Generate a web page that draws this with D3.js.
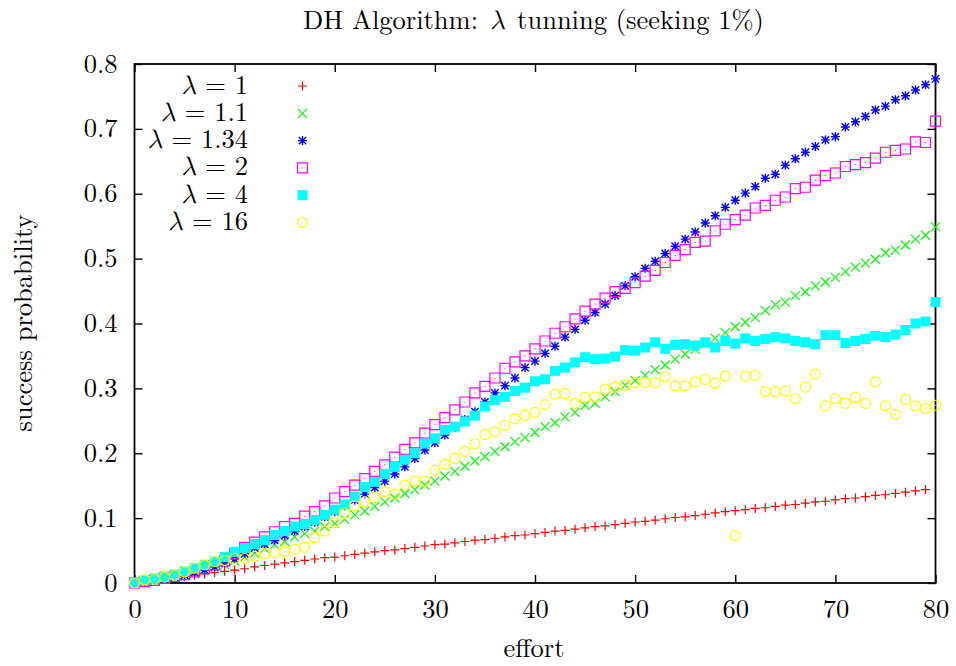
<!DOCTYPE html>
<html>
<head>
<meta charset="utf-8">
<script src="https://cdn.jsdelivr.net/npm/d3@7"></script>
<style>
  html, body { margin: 0; padding: 0; background: #fff; }
</style>
</head>
<body>
<svg id="chart" width="956" height="666"></svg>
<script>
// ---------- data ----------
const effort = d3.range(0, 81);
const xTicks = [0, 10, 20, 30, 40, 50, 60, 70, 80];
const yTicks = [0, 0.1, 0.2, 0.3, 0.4, 0.5, 0.6, 0.7, 0.8];
const seriesLabels = ["1", "1.1", "1.34", "2", "4", "16"];
const seriesColors = ["#ff0000", "#00ff00", "#0000ff", "#ff00ff", "#00ffff", "#ffff00"];

const lambda1 = [0, .002, .004, .006, .008, .010, .012, .014, .016, .018, .020, .022, .025, .027, .029, .031, .033, .035, .037, .039,
  .040, .042, .044, .046, .048, .050, .051, .053, .055, .057, .059, .060, .062, .064, .066, .067, .069, .071, .073, .074,
  .076, .078, .080, .081, .083, .085, .087, .088, .090, .092, .094, .095, .097, .099, .101, .102, .104, .106, .108, .110,
  .1115, .113, .115, .116, .118, .120, .121, .123, .125, .126, .128, .130, .131, .133, .135, .136, .138, .140, .142, .144];

const lambda1_1 = [0, .002, .004, .006, .009, .012, .015, .019, .023, .028, .034, .040, .046, .053, .059, .064, .071, .076, .080, .087,
  .092, .098, .105, .111, .118, .125, .131, .138, .144, .151, .157, .165, .172, .180, .188, .195, .203, .210, .218, .224,
  .232, .241, .247, .256, .263, .274, .277, .287, .295, .305, .312, .320, .329, .336, .345, .353, .360, .369, .377, .386,
  .395, .402, .409, .420, .429, .433, .443, .449, .458, .464, .471, .480, .487, .493, .499, .509, .513, .521, .530, .536, .549];

const lambda1_34 = [0, .002, .004, .006, .009, .012, .016, .020, .025, .031, .037, .045, .054, .060, .066, .073, .080, .087, .094, .102,
  .110, .119, .128, .137, .147, .157, .168, .179, .192, .205, .216, .228, .240, .252, .264, .279, .293, .304, .316, .332,
  .342, .354, .365, .379, .391, .405, .417, .430, .443, .458, .472, .485, .496, .508, .519, .530, .541, .555, .566, .579,
  .590, .601, .611, .624, .630, .644, .654, .664, .673, .683, .688, .703, .711, .719, .729, .735, .745, .751, .760, .768, .777];

const lambda2 = [0, .002, .004, .007, .010, .013, .017, .022, .028, .034, .045, .055, .063, .071, .079, .087, .092, .103, .110, .119,
  .131, .141, .151, .161, .172, .182, .194, .206, .216, .231, .244, .255, .267, .279, .293, .303, .316, .331, .341, .350,
  .361, .373, .385, .395, .407, .419, .430, .439, .449, .454, .463, .473, .482, .494, .505, .514, .525, .527, .543, .553,
  .560, .567, .578, .582, .590, .595, .608, .610, .621, .628, .632, .642, .645, .648, .655, .664, .667, .669, .680, .679, .712];

const lambda4 = [0, .004, .007, .010, .013, .018, .023, .028, .033, .040, .048, .054, .060, .066, .074, .080, .087, .091, .097, .105,
  .113, .121, .133, .148, .156, .168, .179, .190, .200, .215, .223, .236, .241, .249, .258, .272, .282, .287, .296, .301,
  .311, .314, .327, .332, .340, .348, .345, .346, .349, .359, .358, .363, .371, .361, .367, .368, .366, .371, .363, .373,
  .369, .377, .373, .376, .379, .377, .373, .371, .368, .382, .382, .370, .373, .376, .381, .379, .383, .390, .400, .403, .433];

const lambda16 = [0, .005, .006, .009, .012, .017, .023, .028, .033, .035, .038, .038, .041, .045, .047, .049, .052, .055, .070, .080,
  .093, .107, .119, .125, .132, .141, .137, .151, .157, .157, .174, .183, .192, .203, .215, .229, .233, .243, .253, .258,
  .263, .275, .291, .292, .277, .286, .287, .299, .302, .305, .309, .309, .309, .318, .304, .304, .310, .314, .308, .319,
  .073, .319, .320, .295, .295, .296, .284, .302, .322, .273, .284, .277, .286, .277, .310, .273, .260, .283, .273, .269, .274];

const seriesValues = [lambda1, lambda1_1, lambda1_34, lambda2, lambda4, lambda16];

// ---------- layout ----------
const svg = d3.select("#chart");
const pLeft = 134.5, pRight = 935.5, pTop = 64, pBottom = 583;
const x = d3.scaleLinear().domain([0, 80]).range([pLeft, pRight]);
const y = d3.scaleLinear().domain([0, 0.8]).range([pBottom, pTop]);
const FS = 26.5;
const FONT = '"Latin Modern Roman", "CMU Serif", "FreeSerif", serif';
const MATHFONT = '"Latin Modern Math", "Latin Modern Roman", "FreeSerif", serif';

function styleText(sel) {
  return sel.style("font-family", FONT).style("font-size", FS + "px").style("fill", "#000");
}
function mathLambda(t) {
  return t.append("tspan").style("font-family", MATHFONT).style("font-style", "oblique").text("λ");
}

// marker shapes (relative paths)
const h = 4.5;
const markerPaths = [
  `M${-h},0H${h}M0,${-h}V${h}`,
  `M${-h},${-h}L${h},${h}M${-h},${h}L${h},${-h}`,
  `M${-h},0H${h}M0,${-h}V${h}M${-h+0.8},${-h+0.8}L${h-0.8},${h-0.8}M${-h+0.8},${h-0.8}L${h-0.8},${-h+0.8}`,
  `M-5,-5H5V5H-5Z`,
  `M-5,-5H5V5H-5Z`,
  null
];

function drawMarker(g, i, color) {
  if (i === 5) {
    g.append("circle").attr("r", 5).attr("fill", "none").attr("stroke", color).attr("stroke-width", 1.2);
    g.append("circle").attr("r", 0.6).attr("fill", color);
  } else if (i === 4) {
    g.append("path").attr("d", markerPaths[i]).attr("fill", color).attr("stroke", "none");
  } else {
    g.append("path").attr("d", markerPaths[i]).attr("fill", "none").attr("stroke", color)
      .attr("stroke-width", i === 2 ? 1.4 : 1.2);
    if (i === 3) g.append("circle").attr("r", 0.6).attr("fill", color);
  }
}

// ---------- axes ----------
const tickLen = 8;
const axL = svg.append("g").attr("transform", `translate(${pLeft},0)`)
  .call(d3.axisLeft(y).tickValues(yTicks).tickSize(-tickLen).tickPadding(17).tickFormat(d3.format("")));
const axR = svg.append("g").attr("transform", `translate(${pRight},0)`)
  .call(d3.axisRight(y).tickValues(yTicks).tickSize(-tickLen).tickFormat(""));
const axB = svg.append("g").attr("transform", `translate(0,${pBottom})`)
  .call(d3.axisBottom(x).tickValues(xTicks).tickSize(-tickLen).tickPadding(20).tickFormat(d3.format("")));
const axT = svg.append("g").attr("transform", `translate(0,${pTop})`)
  .call(d3.axisTop(x).tickValues(xTicks).tickSize(-tickLen).tickFormat(""));

[axL, axR, axB, axT].forEach(a => {
  a.select(".domain").remove();
  a.selectAll(".tick line").attr("stroke", "#000").attr("stroke-width", 1.4);
  styleText(a.selectAll("text"));
});
axL.selectAll("text").attr("x", -17).attr("dy", 8);
axB.selectAll("text").attr("y", 35).attr("dy", 0);

svg.append("rect")
  .attr("x", pLeft).attr("y", pTop).attr("width", pRight - pLeft).attr("height", pBottom - pTop)
  .attr("fill", "none").attr("stroke", "#000").attr("stroke-width", 1.8);

// ---------- series ----------
seriesValues.forEach((vals, i) => {
  const g = svg.append("g");
  vals.forEach((v, k) => {
    const m = g.append("g").attr("transform", `translate(${x(effort[k])},${y(v)})`);
    drawMarker(m, i, seriesColors[i]);
  });
});

// ---------- legend ----------
const legend = svg.append("g");
seriesLabels.forEach((lab, i) => {
  const by = 93.5 + i * 27.3;
  const t = styleText(legend.append("text").attr("x", 248).attr("y", by).attr("text-anchor", "end"));
  mathLambda(t);
  t.append("tspan").attr("dx", 1).text(" = " + lab);
  const m = legend.append("g").attr("transform", `translate(302.5,${by - 7.5})`);
  drawMarker(m, i, seriesColors[i]);
});

// ---------- titles ----------
const title = styleText(svg.append("text").attr("x", 533.5).attr("y", 29).attr("text-anchor", "middle"));
title.append("tspan").text("DH Algorithm:");
mathLambda(title).attr("dx", 12);
title.append("tspan").attr("dx", 4).text(" tunning (seeking 1%)");

styleText(svg.append("text").attr("x", 534).attr("y", 657).attr("text-anchor", "middle")).text("effort");
styleText(svg.append("text").attr("transform", "translate(32,323) rotate(-90)").attr("text-anchor", "middle"))
  .text("success probability");
</script>
</body>
</html>
